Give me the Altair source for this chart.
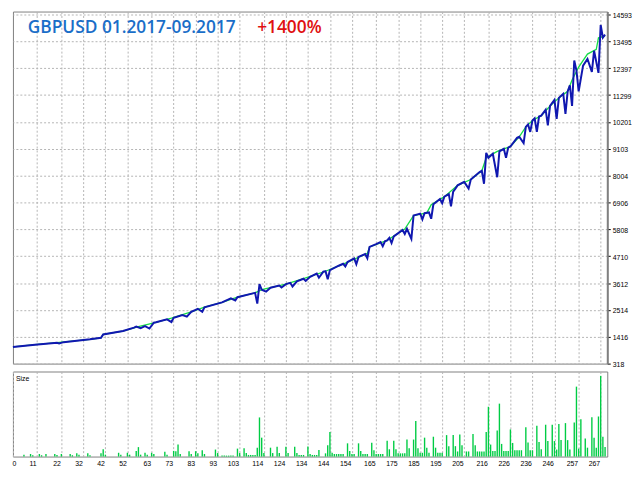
import altair as alt
import pandas as pd

# ---------------- data ----------------
title_main = "GBPUSD 01.2017-09.2017"
title_gain = "+1400%"
size_label = "Size"

y_ticks = [318, 1416, 2514, 3612, 4710, 5808, 6906, 8004, 9103, 10201,
           11299, 12397, 13495, 14593]
x_ticks = [0, 11, 22, 32, 42, 52, 63, 73, 83, 93, 103, 114, 124, 134, 144,
           154, 165, 175, 185, 195, 205, 216, 226, 236, 246, 257, 267]

balance_trade = [0, 10, 20, 28, 35, 40, 41, 50, 57, 65, 72, 81, 87, 95, 102,
                 110, 113, 124, 132, 142, 151, 161, 162, 170, 178, 182, 188,
                 190, 196, 202, 208, 213, 215, 220, 224, 226, 230, 233, 236,
                 240, 244, 248, 252, 254, 257, 261, 265, 266, 269]
balance_value = [1000, 1093, 1173, 1244, 1312, 1372, 1511, 1650, 1829, 2008,
                 2175, 2437, 2624, 2823, 3034, 3209, 3340, 3566, 3789, 4095,
                 4425, 4823, 5089, 5356, 5817, 6373, 6481, 6811, 7145, 7606,
                 7845, 8202, 8735, 8998, 9133, 9196, 9594, 10000, 10258, 10457,
                 10854, 11184, 11451, 11916, 12445, 12974, 13172, 13638, 13705]

equity_trade = [0, 10, 20, 21, 23, 28, 35, 40, 41, 50, 55, 56, 58, 60, 62, 64,
                65, 70, 72, 73, 77, 79, 81, 84, 86, 87, 95, 99, 101, 102, 109,
                110, 111, 112, 113, 115, 117, 121, 122, 124, 126, 127, 129,
                132, 133, 135, 138, 139, 141, 142, 143, 144, 148, 150, 151,
                152, 155, 156, 157, 160, 161, 162, 165, 167, 168, 169, 170,
                171, 172, 173, 177, 178, 179, 181, 182, 185, 186, 187, 189,
                190, 191, 194, 195, 196, 198, 199, 200, 201, 202, 205, 207,
                208, 212, 213, 214, 215, 216, 218, 220, 221, 223, 224, 225,
                226, 229, 230, 232, 233, 234, 235, 236, 237, 238, 239, 240,
                242, 243, 244, 246, 247, 248, 250, 251, 252, 253, 254, 255,
                256, 257, 259, 261, 263, 264, 266, 267, 268, 269]
equity_value = [1000, 1093, 1173, 1141, 1195, 1244, 1312, 1372, 1511, 1650,
                1790, 1830, 1770, 1850, 1750, 1990, 2008, 2130, 2016, 2190,
                2300, 2238, 2437, 2560, 2437, 2624, 2823, 2990, 2902, 3034,
                3190, 3209, 2771, 3566, 3340, 3260, 3420, 3510, 3431, 3566,
                3620, 3471, 3680, 3789, 3698, 3870, 4000, 3829, 4080, 4095,
                3765, 4140, 4320, 4400, 4294, 4470, 4620, 4385, 4680, 4800,
                4624, 5089, 5200, 5290, 5117, 5320, 5356, 5460, 5248, 5520,
                5780, 5618, 5830, 5419, 6373, 6450, 6214, 6470, 6500, 6242,
                6830, 7050, 6878, 7145, 7250, 6747, 7350, 7475, 7606, 7750,
                7475, 7845, 8150, 8202, 7674, 8934, 8735, 8900, 7940, 8998,
                9100, 8735, 9150, 9196, 9550, 9594, 9332, 10000, 10100, 9793,
                10258, 10350, 9793, 10420, 10457, 10700, 10059, 10854, 11100,
                10326, 11184, 11350, 10524, 11451, 11700, 10854, 12711, 12300,
                11451, 12500, 12775, 12246, 13109, 12206, 14166, 13650, 13769]

bar_trade = [5, 8, 9, 12, 13, 15, 19, 20, 22, 26, 27, 29, 30, 34, 35, 40, 41,
             42, 48, 49, 52, 53, 56, 57, 58, 60, 61, 63, 64, 69, 70, 73, 74,
             75, 76, 80, 81, 83, 84, 86, 87, 92, 93, 95, 96, 97, 98, 99, 100,
             102, 103, 105, 106, 107, 108, 109, 110, 111, 112, 113, 114, 117,
             118, 120, 121, 124, 125, 128, 129, 130, 131, 132, 134, 135, 136,
             137, 138, 139, 142, 143, 144, 145, 146, 147, 148, 149, 150, 152,
             153, 154, 155, 157, 158, 159, 160, 161, 163, 164, 165, 166, 167,
             168, 170, 171, 173, 174, 175, 176, 177, 178, 179, 180, 182, 183,
             184, 185, 186, 187, 188, 189, 191, 192, 193, 194, 195, 197, 198,
             200, 201, 202, 203, 204, 206, 207, 209, 210, 211, 212, 213, 214,
             215, 216, 217, 218, 219, 220, 221, 222, 223, 224, 225, 226, 227,
             228, 229, 230, 231, 233, 234, 235, 236, 238, 239, 240, 242, 243,
             245, 246, 247, 248, 249, 251, 252, 253, 255, 256, 257, 258, 260,
             261, 263, 264, 265, 266, 267, 268, 269]
bar_size = [2.0, 2.7, 1.4, 2.7, 1.4, 2.7, 2.7, 1.7, 2.7, 2.7, 1.4, 3.4, 2.0,
            3.4, 1.4, 3.4, 7.7, 2.0, 4.0, 2.0, 4.0, 2.0, 6.0, 10.0, 2.0, 4.0,
            2.0, 4.0, 2.7, 5.0, 2.0, 6.0, 5.7, 12.7, 2.7, 5.7, 2.7, 5.7, 3.4,
            6.7, 2.7, 7.4, 3.7, 1.0, 1.0, 1.0, 1.0, 1.0, 1.0, 8.4, 3.7, 8.7,
            3.7, 1.7, 1.7, 1.7, 1.7, 9.4, 41.4, 20.0, 3.7, 9.4, 3.7, 10.4, 3.7,
            10.4, 3.7, 10.4, 3.7, 1.7, 1.7, 1.7, 10.7, 2.7, 1.7, 1.7, 1.7, 7.0,
            3.4, 12.0, 26.0, 4.0, 2.7, 2.7, 2.7, 2.7, 2.7, 14.0, 6.0, 2.7, 2.7,
            14.0, 6.0, 2.7, 2.7, 2.7, 14.7, 6.7, 2.7, 2.7, 2.7, 2.7, 16.7, 7.7,
            16.7, 7.7, 3.4, 3.4, 3.4, 3.4, 18.0, 8.7, 18.0, 37.7, 8.7, 4.0, 4.0,
            20.0, 9.4, 4.0, 21.0, 9.4, 4.0, 4.0, 4.0, 22.7, 11.0, 22.7, 11.0,
            5.4, 23.4, 12.0, 5.4, 5.4, 24.0, 12.0, 5.4, 5.4, 5.4, 5.4, 26.0,
            52.7, 12.7, 6.0, 6.0, 27.7, 56.0, 13.4, 6.0, 6.0, 6.0, 28.7, 14.4,
            6.7, 6.7, 6.7, 6.7, 31.0, 15.0, 6.7, 6.7, 32.7, 15.4, 7.7, 33.7,
            16.4, 33.7, 16.4, 7.4, 34.4, 17.4, 35.4, 17.4, 7.4, 36.0, 74.0,
            8.4, 39.4, 19.0, 9.4, 41.7, 20.0, 9.4, 42.4, 85.4, 21.0, 10.0]

# ---------------- layout / styles ----------------
W = 601
H_TOP = 356
H_BOT = 86
LABEL_FONT = "Liberation Sans"
GRID = dict(grid=True, gridColor="#b4b4b4", gridDash=[2, 2], gridWidth=1)

xscale = alt.Scale(domain=[0, 270], nice=False, zero=False)
yscale = alt.Scale(domain=[318, 14714], nice=False, zero=False)

bal_df = pd.DataFrame({"trade": balance_trade, "value": balance_value})
eq_df = pd.DataFrame({"trade": equity_trade, "value": equity_value})
bar_df = pd.DataFrame({"trade": bar_trade, "size": bar_size})

balance = alt.Chart(bal_df).mark_line(color="#14dc46", strokeWidth=1.3).encode(
    x=alt.X("trade:Q", scale=xscale,
            axis=alt.Axis(values=x_ticks[1:], tickCount=len(x_ticks),
                          labels=False, ticks=False,
                          domain=False, title=None, **GRID)),
    y=alt.Y("value:Q", scale=yscale,
            axis=alt.Axis(orient="right", values=y_ticks,
                          tickCount=len(y_ticks), title=None,
                          format="d", labelFont=LABEL_FONT, labelFontSize=7,
                          labelColor="black", labelPadding=2, labelOffset=1,
                          labelOverlap=False, labelBound=False,
                          tickSize=3, tickColor="black", tickWidth=1,
                          domainColor="#808080", domainWidth=2, **GRID)),
)
equity = alt.Chart(eq_df).mark_line(color="#1018b0", strokeWidth=2).encode(
    x="trade:Q", y="value:Q"
)
t_main = alt.Chart(pd.DataFrame({"t": [title_main]})).mark_text(
    align="left", baseline="middle", font="Open Sans", fontSize=17.5,
    fontWeight=600, color="#1a6ec8"
).encode(text="t:N", x=alt.value(15), y=alt.value(17))
t_gain = alt.Chart(pd.DataFrame({"t": [title_gain]})).mark_text(
    align="left", baseline="middle", font="Open Sans", fontSize=17.5,
    fontWeight=600, color="#e01010"
).encode(text="t:N", x=alt.value(247), y=alt.value(17))

top = alt.layer(balance, equity, t_main, t_gain).properties(width=W, height=H_TOP)

bars = alt.Chart(bar_df).mark_rule(color="#00cc44", strokeWidth=1.4).encode(
    x=alt.X("trade:Q", scale=xscale,
            axis=alt.Axis(values=x_ticks, tickCount=len(x_ticks), title=None,
                          ticks=False, domain=False,
                          labelFont=LABEL_FONT, labelFontSize=7,
                          labelColor="black", labelPadding=3,
                          labelBaseline="top", labelOffset=-1,
                          labelOverlap=False,
                          labelAlign={"condition": {"test": "datum.value === 0",
                                                    "value": "left"},
                                      "value": "right"},
                          **GRID)),
    y=alt.Y("size:Q", scale=alt.Scale(domain=[0, 90], nice=False), axis=None),
    y2=alt.datum(0),
)
t_size = alt.Chart(pd.DataFrame({"t": [size_label]})).mark_text(
    align="left", baseline="middle", font=LABEL_FONT, fontSize=7, color="black"
).encode(text="t:N", x=alt.value(3), y=alt.value(8))

bottom = alt.layer(bars, t_size).properties(width=W, height=H_BOT)

chart = alt.vconcat(top, bottom, spacing=2).properties(
    padding=0, background="white"
).configure_view(stroke="#808080", strokeWidth=1)

chart.save("out.html", embed_options={"renderer": "svg", "actions": False})
